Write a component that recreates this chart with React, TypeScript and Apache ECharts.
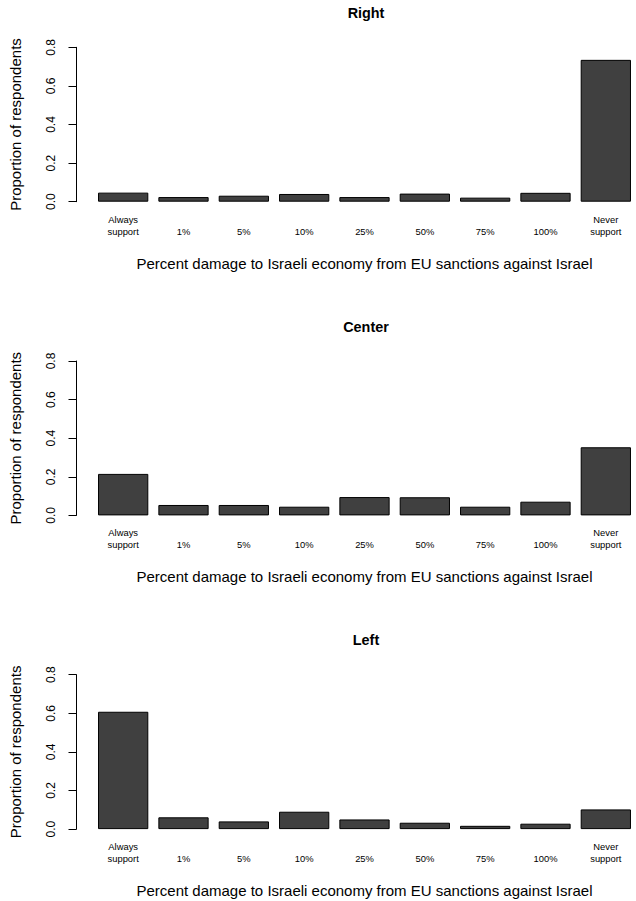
import React, { useEffect, useRef } from "react";
import * as echarts from "echarts";

const categories = ["Always\nsupport", "1%", "5%", "10%", "25%", "50%", "75%", "100%", "Never\nsupport"];
const panelTitles = ["Right", "Center", "Left"];
const rightValues = [0.047, 0.024, 0.031, 0.040, 0.024, 0.042, 0.021, 0.046, 0.735];
const centerValues = [0.215, 0.054, 0.054, 0.045, 0.095, 0.094, 0.045, 0.071, 0.353];
const leftValues = [0.608, 0.061, 0.040, 0.090, 0.050, 0.033, 0.017, 0.028, 0.102];
const yTicks = [0, 0.2, 0.4, 0.6, 0.8];
const yAxisTitle = "Proportion of respondents";
const xAxisTitle = "Percent damage to Israeli economy from EU sanctions against Israel";

const FONT = "'Liberation Sans', Arial, Helvetica, sans-serif";

export default function App() {
  const ref = useRef<HTMLDivElement>(null);
  useEffect(() => {
    if (!ref.current) return;
    const chart = echarts.init(ref.current, null, { renderer: "svg" });
    const allValues = [rightValues, centerValues, leftValues];
    const step = 313.7;
    const grids: any[] = [];
    const xAxes: any[] = [];
    const yAxes: any[] = [];
    const series: any[] = [];
    const titles: any[] = [];
    allValues.forEach((vals, k) => {
      const off = step * k;
      grids.push({ left: 90.2, top: 47.3 + off, width: 550.8, height: 154.4, containLabel: false });
      titles.push({
        text: panelTitles[k],
        left: 366,
        top: 6 + off,
        padding: 0,
        textAlign: "center",
        textStyle: { fontFamily: FONT, fontSize: 14.4, fontWeight: "bold", color: "#000" },
      });
      xAxes.push({
        type: "category",
        gridIndex: k,
        data: categories,
        axisLine: { show: false },
        axisTick: { show: false },
        axisLabel: {
          interval: 0,
          margin: 11.3,
          fontFamily: FONT,
          fontSize: 9.4,
          lineHeight: 12,
          color: "#000",
          formatter: (v: string) => (v.indexOf("\n") >= 0 ? v : "\n" + v),
        },
        name: xAxisTitle,
        nameLocation: "middle",
        nameGap: 54,
        nameTextStyle: { fontFamily: FONT, fontSize: 15, color: "#000" },
      });
      yAxes.push({
        type: "value",
        gridIndex: k,
        position: "left",
        min: yTicks[0],
        max: yTicks[yTicks.length - 1],
        interval: 0.2,
        offset: 16.5,
        splitLine: { show: false },
        axisLine: { show: true, onZero: false, lineStyle: { color: "#000", width: 1, type: "solid" } },
        axisTick: { show: true, inside: false, length: 8, lineStyle: { color: "#000", width: 1 } },
        axisLabel: {
          rotate: 90,
          margin: 19.5,
          fontFamily: FONT,
          fontSize: 12,
          color: "#000",
          formatter: (v: number) => v.toFixed(1),
        },
        name: yAxisTitle,
        nameLocation: "middle",
        nameRotate: 90,
        nameGap: 53.5,
        nameTextStyle: { fontFamily: FONT, fontSize: 15, color: "#000" },
      });
      series.push({
        type: "bar",
        xAxisIndex: k,
        yAxisIndex: k,
        data: vals,
        barCategoryGap: "16.67%",
        itemStyle: { color: "#404040", borderColor: "#000", borderWidth: 1 },
      });
    });
    chart.setOption({
      animation: false,
      backgroundColor: "#fff",
      title: titles,
      grid: grids,
      xAxis: xAxes,
      yAxis: yAxes,
      series,
    });
    return () => chart.dispose();
  }, []);
  return (
    <div
      ref={ref}
      style={{ position: "absolute", left: 0, top: 0, width: 636, height: 901, background: "#fff" }}
    />
  );
}
